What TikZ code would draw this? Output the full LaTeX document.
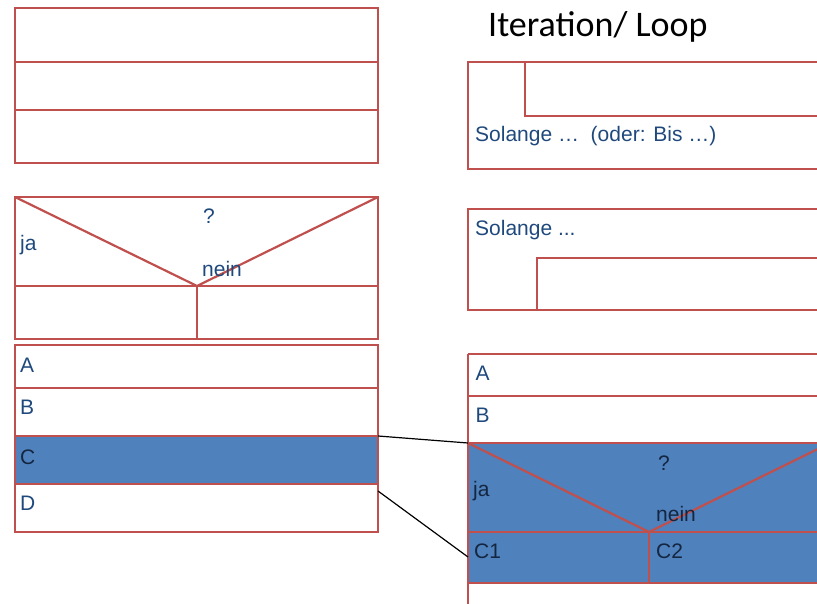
\documentclass[tikz,border=0pt]{standalone}
\usepackage{fontspec}
\setsansfont{Liberation Sans}
\newfontfamily\titlefont{Carlito}
\definecolor{boxred}{HTML}{C0504D}
\definecolor{fillblue}{HTML}{4F81BD}
\definecolor{txtblue}{HTML}{1F497D}
\definecolor{txtdark}{HTML}{142640}
\begin{document}
\begin{tikzpicture}[x=1pt,y=-1pt,
  box/.style={draw=boxred,line width=2.2pt},
  lbl/.style={anchor=base west,inner sep=0pt,font=\sffamily\fontsize{21}{25}\selectfont,text=txtblue},
  lbldark/.style={lbl,text=txtdark},
  link/.style={draw=black,line width=1.2pt}]
\useasboundingbox (0,0) rectangle (817,604);
\clip (0,0) rectangle (817,604);
% top-left block
\draw[box] (15,8) rectangle (378,163);
\draw[box] (15,62) -- (378,62);
\draw[box] (15,110) -- (378,110);
% decision
\draw[box] (15,197) rectangle (378,339);
\draw[box] (15,286) -- (378,286);
\draw[box] (15,197) -- (197,286) -- (378,197);
\draw[box] (197,286) -- (197,339);
\node[lbl] (q1) at (203,224) {?};
\node[lbl] (ja1) at (20,250.5) {ja};
\node[lbl] (nein1) at (202,276.5) {nein};
% sequence
\fill[fillblue] (15,436) rectangle (378,484);
\draw[box] (15,345) rectangle (378,532);
\draw[box] (15,388) -- (378,388);
\draw[box] (15,436) -- (378,436);
\draw[box] (15,484) -- (378,484);
\node[lbl] (A1) at (20,372) {A};
\node[lbl] (B1) at (20,414) {B};
\node[lbldark] (C1l) at (20,464) {C};
\node[lbl] (D1) at (20,510.5) {D};
% title
\node[anchor=base west,inner sep=0pt,font=\titlefont\fontsize{36}{42}\selectfont] (title) at (488,37) {Iteration/ Loop};
% loop 1
\draw[box] (830,62) -- (468,62) -- (468,169) -- (830,169);
\draw[box] (830,116) -- (525,116) -- (525,62);
\node[lbl] (sol1) at (475,141.5) {Solange …\ \ (oder: Bis …)};
% loop 2
\draw[box] (830,209) -- (468,209) -- (468,310) -- (830,310);
\draw[box] (830,258) -- (537,258) -- (537,310);
\node[lbl] (sol2) at (475,235.5) {Solange ...};
% nested
\fill[fillblue] (468,443) rectangle (830,583);
\draw[box] (468,354) -- (830,354);
\draw[box] (468,396) -- (830,396);
\draw[box] (468,443) -- (830,443);
\draw[box] (468,532) -- (830,532);
\draw[box] (468,583) -- (830,583);
\draw[box] (468,354) -- (468,606);
\draw[box] (468,443) -- (649,532) -- (830,443);
\draw[box] (649,532) -- (649,583);
\node[lbl] (A2) at (475.5,380) {A};
\node[lbl] (B2) at (475.5,422) {B};
\node[lbldark] (q2) at (658,470.5) {?};
\node[lbldark] (ja2) at (473,496) {ja};
\node[lbldark] (nein2) at (656,521.5) {nein};
\node[lbldark] (c1) at (474,558) {C1};
\node[lbldark] (c2) at (656,558) {C2};
% links
\coordinate (lTop) at (378,436);
\coordinate (lBot) at (378,491);
\coordinate (rTop) at (468,443);
\coordinate (rBot) at (468,557);
\draw[link] (lTop) -- (rTop);
\draw[link] (lBot) -- (rBot);
\end{tikzpicture}
\end{document}
